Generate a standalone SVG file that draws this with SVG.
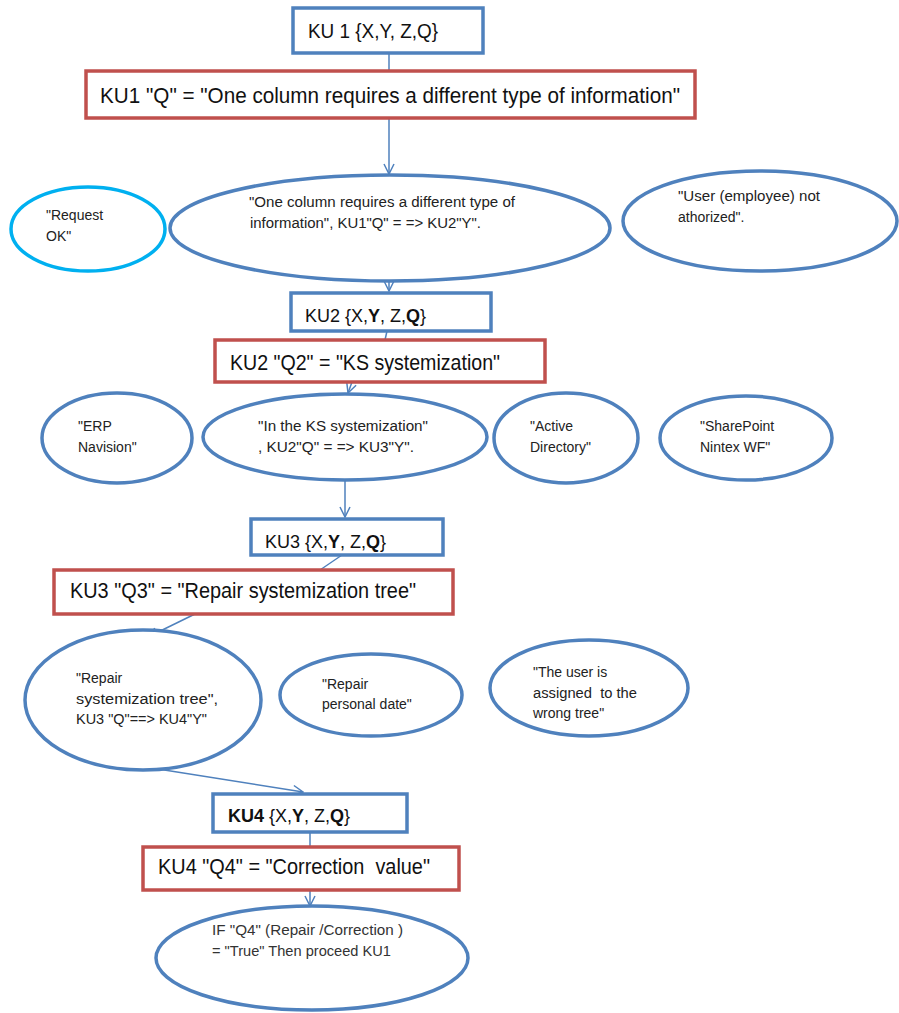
<svg xmlns="http://www.w3.org/2000/svg" width="899" height="1013" viewBox="0 0 899 1013">
<defs>
<style>
.bbox{fill:#fff;stroke:#4F81BD;stroke-width:3.5}
.rbox{fill:#fff;stroke:#C0504D;stroke-width:3.5}
.ell{fill:#fff;stroke:#4F81BD;stroke-width:3.5}
.ellc{fill:#fff;stroke:#00B0F0;stroke-width:3.5}
.t{font-family:"Liberation Sans",Arial,sans-serif;fill:#111;white-space:pre}
.big{font-size:18px}
.mid{font-size:14px;fill:#222}
.c{fill:none;stroke:#4F81BD;stroke-width:1.5}
</style>
<marker id="arr" viewBox="0 0 12 12" refX="11" refY="6" markerWidth="12" markerHeight="12" markerUnits="userSpaceOnUse" orient="auto">
<path d="M1,1 L11,6 L1,11" fill="none" stroke="#4F81BD" stroke-width="1.5"/>
</marker>
</defs>
<g id="connectors">
<line class="c" x1="389" y1="53" x2="389" y2="70"/>
<line class="c" x1="389" y1="118" x2="389" y2="174" marker-end="url(#arr)"/>
<line class="c" x1="389" y1="282" x2="389" y2="291" marker-end="url(#arr)"/>
<line class="c" x1="387" y1="331" x2="385" y2="340"/>
<line class="c" x1="352" y1="382" x2="348" y2="393" marker-end="url(#arr)"/>
<line class="c" x1="345" y1="480" x2="345" y2="517" marker-end="url(#arr)"/>
<line class="c" x1="342" y1="555" x2="320" y2="570"/>
<line class="c" x1="195" y1="614" x2="148" y2="637" marker-end="url(#arr)"/>
<line class="c" x1="158" y1="769" x2="303" y2="792" marker-end="url(#arr)"/>
<line class="c" x1="310" y1="832" x2="310" y2="846"/>
<line class="c" x1="310" y1="890" x2="310" y2="906" marker-end="url(#arr)"/>
</g>
<g id="ku1">
<rect class="bbox" x="293" y="8" width="190" height="45"/>
<text class="t" font-size="20" x="308" y="38" textLength="130" lengthAdjust="spacingAndGlyphs">KU 1 {X,Y, Z,Q}</text>
</g>
<g id="ku1q">
<rect class="rbox" x="86" y="71" width="609" height="47"/>
<text class="t" font-size="22" x="100" y="103" textLength="580" lengthAdjust="spacingAndGlyphs">KU1 "Q" = "One column requires a different type of information"</text>
</g>
<g id="request-ok">
<ellipse class="ellc" cx="88" cy="229" rx="77" ry="42"/>
<text class="t mid" x="46" y="220">"Request</text>
<text class="t mid" x="46" y="241">OK"</text>
</g>
<g id="ku1-result">
<ellipse class="ell" cx="390" cy="228" rx="220" ry="53"/>
<text class="t mid" x="249" y="207" textLength="266" lengthAdjust="spacingAndGlyphs">"One column requires a different type of</text>
<text class="t mid" x="250" y="228" textLength="231" lengthAdjust="spacingAndGlyphs">information", KU1"Q" = => KU2"Y".</text>
</g>
<g id="user-not-auth">
<ellipse class="ell" cx="760" cy="221" rx="137" ry="50"/>
<text class="t mid" x="678" y="201" textLength="142" lengthAdjust="spacingAndGlyphs">"User (employee) not</text>
<text class="t mid" x="678" y="222">athorized".</text>
</g>
<g id="ku2">
<rect class="bbox" x="291" y="293" width="200" height="38"/>
<text class="t big" x="305" y="322">KU2 {X,<tspan font-weight="bold">Y</tspan>, Z,<tspan font-weight="bold">Q</tspan>}</text>
</g>
<g id="ku2q">
<rect class="rbox" x="215" y="340" width="330" height="42"/>
<text class="t" font-size="22" x="230" y="370" textLength="270" lengthAdjust="spacingAndGlyphs">KU2 "Q2" = "KS systemization"</text>
</g>
<g id="erp">
<ellipse class="ell" cx="117" cy="438" rx="75" ry="45"/>
<text class="t mid" x="78" y="431">"ERP</text>
<text class="t mid" x="78" y="452">Navision"</text>
</g>
<g id="ks-result">
<ellipse class="ell" cx="345" cy="437" rx="142" ry="43"/>
<text class="t mid" x="258" y="431" textLength="170" lengthAdjust="spacingAndGlyphs">"In the KS systemization"</text>
<text class="t mid" x="258" y="452" textLength="156" lengthAdjust="spacingAndGlyphs">, KU2"Q" = => KU3"Y".</text>
</g>
<g id="active-directory">
<ellipse class="ell" cx="566" cy="438" rx="72" ry="45"/>
<text class="t mid" x="530" y="431">"Active</text>
<text class="t mid" x="530" y="452">Directory"</text>
</g>
<g id="sharepoint">
<ellipse class="ell" cx="746" cy="438" rx="86" ry="42"/>
<text class="t mid" x="700" y="431">"SharePoint</text>
<text class="t mid" x="700" y="452">Nintex WF"</text>
</g>
<g id="ku3">
<rect class="bbox" x="251" y="519" width="192" height="36"/>
<text class="t big" x="265" y="548">KU3 {X,<tspan font-weight="bold">Y</tspan>, Z,<tspan font-weight="bold">Q</tspan>}</text>
</g>
<g id="ku3q">
<rect class="rbox" x="54" y="570" width="399" height="44"/>
<text class="t" font-size="22" x="70" y="598" textLength="346" lengthAdjust="spacingAndGlyphs">KU3 "Q3" = "Repair systemization tree"</text>
</g>
<g id="repair-tree">
<ellipse class="ell" cx="143" cy="700" rx="118" ry="70"/>
<text class="t mid" x="76" y="683">"Repair</text>
<text class="t mid" x="76" y="704" textLength="142" lengthAdjust="spacingAndGlyphs">systemization tree",</text>
<text class="t mid" x="76" y="724" textLength="131" lengthAdjust="spacingAndGlyphs">KU3 "Q"==&gt; KU4"Y"</text>
</g>
<g id="repair-personal">
<ellipse class="ell" cx="371" cy="695" rx="91" ry="41"/>
<text class="t mid" x="322" y="689">"Repair</text>
<text class="t mid" x="322" y="709">personal date"</text>
</g>
<g id="wrong-tree">
<ellipse class="ell" cx="589" cy="688" rx="99" ry="48"/>
<text class="t mid" x="533" y="677">"The user is</text>
<text class="t mid" x="533" y="698" textLength="104" lengthAdjust="spacingAndGlyphs">assigned  to the</text>
<text class="t mid" x="533" y="718">wrong tree"</text>
</g>
<g id="ku4">
<rect class="bbox" x="213" y="794" width="194" height="38"/>
<text class="t big" x="228" y="822"><tspan font-weight="bold">KU4</tspan> {X,<tspan font-weight="bold">Y</tspan>, Z,<tspan font-weight="bold">Q</tspan>}</text>
</g>
<g id="ku4q">
<rect class="rbox" x="143" y="847" width="316" height="43"/>
<text class="t" font-size="22" x="158" y="874" textLength="272" lengthAdjust="spacingAndGlyphs">KU4 "Q4" = "Correction  value"</text>
</g>
<g id="final">
<ellipse class="ell" cx="312" cy="958" rx="156" ry="52"/>
<text class="t mid" x="212" y="935" style="fill:#333" textLength="191" lengthAdjust="spacingAndGlyphs">IF "Q4" (Repair /Correction )</text>
<text class="t mid" x="212" y="956" style="fill:#333" textLength="179" lengthAdjust="spacingAndGlyphs">= "True" Then proceed KU1</text>
</g>
</svg>
